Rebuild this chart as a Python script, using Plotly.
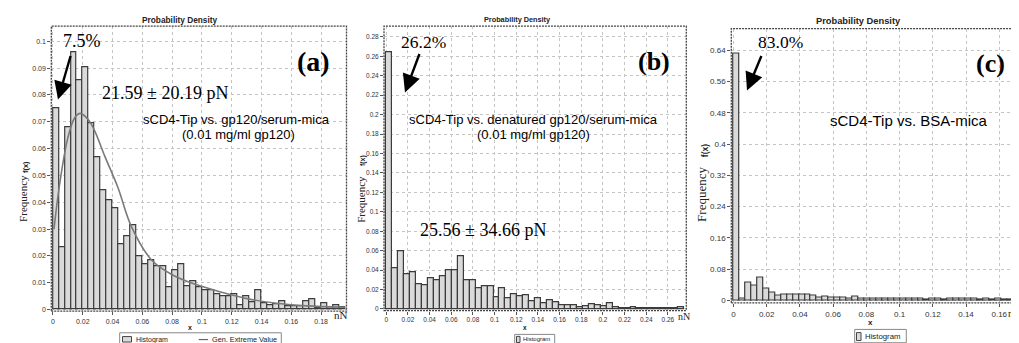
import plotly.graph_objects as go

# ---------------- data ----------------
# panel (a): sCD4-Tip vs. gp120/serum-mica
a_bin_width = 0.004
a_freq = [0.075, 0.0233, 0.0678, 0.0959, 0.0855, 0.0903, 0.0693, 0.0569, 0.0444, 0.0408,
          0.0378, 0.0242, 0.0273, 0.0313, 0.0200, 0.0169, 0.0184, 0.0163, 0.0160, 0.0083,
          0.0146, 0.0170, 0.0087, 0.0105, 0.0083, 0.0074, 0.0074, 0.0058, 0.0050, 0.0050,
          0.0058, 0.0017, 0.0049, 0.0027, 0.0074, 0.0025, 0.0016, 0.0022, 0.0033, 0.0014,
          0.0013, 0.0012, 0.0033, 0.0040, 0.0004, 0.0025, 0.0009, 0.0016, 0.0009]
gev_x = [0.0007, 0.0045, 0.010, 0.0146, 0.0183, 0.0235, 0.028, 0.0347, 0.0436, 0.0526,
         0.066, 0.080, 0.095, 0.113, 0.131, 0.150, 0.170, 0.196]
gev_y = [0.030, 0.0468, 0.064, 0.0715, 0.0731, 0.0709, 0.0666, 0.0573, 0.0455, 0.031,
         0.0186, 0.0130, 0.0095, 0.0065, 0.0040, 0.0024, 0.0014, 0.0009]

# panel (b): sCD4-Tip vs. denatured gp120/serum-mica
b_bin_width = 0.0055
b_freq = [0.264, 0.0415, 0.0599, 0.0354, 0.038, 0.0259, 0.0241, 0.0316, 0.0296, 0.0333,
          0.0395, 0.0395, 0.0544, 0.0296, 0.0296, 0.0214, 0.0231, 0.0231, 0.0122, 0.0214,
          0.0107, 0.0156, 0.0129, 0.0140, 0.0085, 0.0110, 0.0061, 0.0095, 0.0068, 0.0040,
          0.0037, 0.0037, 0.0017, 0.0027, 0.0054, 0.0040, 0.0027, 0.0061, 0.0017, 0.0005,
          0.0005, 0.0017, 0.0005, 0.0012, 0.0005, 0.0005, 0.0005, 0.0005, 0.0005, 0.0020]

# panel (c): sCD4-Tip vs. BSA-mica
c_bin_width = 0.00358
c_freq = [0.632, 0.0043, 0.045, 0.037, 0.058, 0.029, 0.019, 0.012, 0.0155, 0.0155,
          0.014, 0.014, 0.014, 0.011, 0.0077, 0.010, 0.007, 0.0077, 0.007, 0.0043,
          0.0086, 0.0043, 0.0034, 0.0043, 0.0035, 0.0045, 0.003, 0.005, 0.0035, 0.003,
          0.0035, 0.005, 0.002, 0.0035, 0.004, 0.002, 0.003, 0.004, 0.004, 0.0035,
          0.003, 0.002, 0.004, 0.0025, 0.003, 0.002, 0.002, 0.002, 0.005]

# ---------------- layout helpers ----------------
W, H = 1019, 343


def px(x):
    return x / W


def py(y):
    return 1 - y / H


def centers(freqs, w):
    return [w * (i + 0.5) for i in range(len(freqs))]


BAR_FILL = '#dadada'
BAR_LINE = '#3c3c3c'
SANS = 'Liberation Sans, Arial, sans-serif'
SERIF = 'Liberation Serif, Times New Roman, serif'

fig = go.Figure()

fig.add_trace(go.Bar(x=centers(a_freq, a_bin_width), y=a_freq, width=a_bin_width,
                     marker=dict(color=BAR_FILL, line=dict(color=BAR_LINE, width=1.2)),
                     xaxis='x', yaxis='y', showlegend=False))
fig.add_trace(go.Scatter(x=gev_x, y=gev_y, mode='lines',
                         line=dict(color='#7a7a7a', width=1.6, shape='spline'),
                         xaxis='x', yaxis='y', showlegend=False))
fig.add_trace(go.Bar(x=centers(b_freq, b_bin_width), y=b_freq, width=b_bin_width,
                     marker=dict(color=BAR_FILL, line=dict(color=BAR_LINE, width=1.2)),
                     xaxis='x2', yaxis='y2', showlegend=False))
fig.add_trace(go.Bar(x=centers(c_freq, c_bin_width), y=c_freq, width=c_bin_width,
                     marker=dict(color=BAR_FILL, line=dict(color=BAR_LINE, width=1.2)),
                     xaxis='x3', yaxis='y3', showlegend=False))


def axis(domain, rng, dtick, fs, anchor):
    return dict(domain=domain, range=rng, dtick=dtick, tick0=0, showgrid=True,
                gridcolor='#c4c4c4', griddash='dot', gridwidth=1, zeroline=False,
                showline=False, ticks='outside', ticklen=3, tickcolor='#555',
                tickfont=dict(family=SANS, size=fs, color='#333'), anchor=anchor)


fig.update_layout(
    width=W, height=H, margin=dict(l=0, r=0, t=0, b=0),
    paper_bgcolor='white', plot_bgcolor='white', bargap=0,
    xaxis=axis([px(43.3), px(338.5)], [-0.0011, 0.197], 0.02, 7, 'y'),
    yaxis=axis([py(305), py(18.3)], [-0.0006, 0.1056], 0.01, 7, 'x'),
    xaxis2=axis([px(376), px(678.3)], [-0.0021, 0.277], 0.02, 6.5, 'y2'),
    yaxis2=axis([py(304.3), py(18.3)], [-0.0016, 0.291], 0.02, 6.5, 'x2'),
    xaxis3=axis([px(723.3), px(1017)], [-0.0013, 0.1755], 0.02, 8, 'y3'),
    yaxis3=axis([py(296.7), py(20.7)], [-0.007, 0.696], 0.08, 8, 'x3'),
)

shapes = []
annotations = []

# plot frames
for xr, yr in [('x', 'y'), ('x2', 'y2'), ('x3', 'y3')]:
    shapes.append(dict(type='rect', xref=xr + ' domain', yref=yr + ' domain',
                       x0=0, x1=1, y0=0, y1=1,
                       line=dict(color='#444', width=1.3, dash='2px,1px'),
                       layer='above'))


def text(x, y, t, size, family=SANS, bold=False, color='black', angle=0, xanchor='center'):
    if bold:
        t = '<b>' + t + '</b>'
    annotations.append(dict(x=px(x), y=py(y), xref='paper', yref='paper', text=t,
                            showarrow=False, font=dict(family=family, size=size, color=color),
                            textangle=angle, xanchor=xanchor, yanchor='middle'))


def arrow(hx, hy, tx, ty):
    annotations.append(dict(x=px(hx), y=py(hy), xref='paper', yref='paper', text='',
                            showarrow=True, ax=tx - hx, ay=ty - hy, arrowhead=2,
                            arrowsize=1.5, arrowwidth=2.4, arrowcolor='black'))


# titles
text(172, 12, 'Probability Density', 8.3, bold=True, color='#222')
text(510, 12, 'Probability Density', 7.3, bold=True, color='#222')
text(850, 12.7, 'Probability Density', 9.3, bold=True, color='#222')

# y-axis labels
text(15, 192, 'Frequency', 11, family=SERIF, angle=-90, color='#222')
text(17, 160, 'f(x)', 7.5, bold=True, angle=-90, color='#222')
text(353, 193, 'Frequency', 11, family=SERIF, angle=-90, color='#222')
text(355, 154, 'f(x)', 7, bold=True, angle=-90, color='#222')
text(694, 188, 'Frequency', 13, family=SERIF, angle=-90, color='#222')
text(697, 144, 'f(x)', 8.5, bold=True, angle=-90, color='#222')

# x-axis labels
text(181.7, 321.7, 'x', 7, bold=True, color='#222')
text(517, 321, 'x', 6.5, bold=True, color='#222')
text(862, 316, 'x', 8, bold=True, color='#222')

# nN unit labels
text(333, 309, 'nN', 11, family=SERIF, color='#222')
text(676, 310, 'nN', 10, family=SERIF, color='#222')
text(1005.5, 307, 'nN', 10, family=SERIF, color='#222')

# panel (a) annotations
text(74, 33, '7.5%', 18, family=SERIF)
arrow(50, 92, 63, 47)
text(305, 54, '(a)', 28, family=SERIF, bold=True)
text(157, 86, '21.59 ± 20.19 pN', 18, family=SERIF)
text(228, 112, 'sCD4-Tip vs. gp120/serum-mica', 13)
text(230, 127, '(0.01 mg/ml gp120)', 13)

# panel (b) annotations
text(415, 34, '26.2%', 17.5, family=SERIF)
arrow(397, 85, 412, 45)
text(646, 54, '(b)', 26, family=SERIF, bold=True)
text(525, 112, 'sCD4-Tip vs. denatured gp120/serum-mica', 13)
text(525, 127, '(0.01 mg/ml gp120)', 13)
text(474.5, 223, '25.56 ± 34.66 pN', 18, family=SERIF)

# panel (c) annotations
text(772, 34, '83.0%', 17.5, family=SERIF)
arrow(739, 83, 754, 47)
text(982, 56, '(c)', 26, family=SERIF, bold=True)
text(901, 113, 'sCD4-Tip vs. BSA-mica', 15)


# legends (drawn as boxes)
def legend_box(x0, y0, x1, y1):
    shapes.append(dict(type='rect', xref='paper', yref='paper', x0=px(x0), x1=px(x1),
                       y0=py(y1), y1=py(y0), line=dict(color='#888', width=1),
                       fillcolor='white'))


def legend_icon(x0, y0, x1, y1):
    shapes.append(dict(type='rect', xref='paper', yref='paper', x0=px(x0), x1=px(x1),
                       y0=py(y1), y1=py(y0), line=dict(color='#444', width=1),
                       fillcolor=BAR_FILL))


legend_box(111.7, 326.7, 273.3, 340)
legend_icon(114.5, 330.5, 123.5, 336)
text(126, 333.5, 'Histogram', 7, color='#222', xanchor='left')
shapes.append(dict(type='line', xref='paper', yref='paper', x0=px(190.7), x1=px(200),
                   y0=py(333.5), y1=py(333.5), line=dict(color='#666', width=1.2)))
text(201.5, 333.5, 'Gen. Extreme Value', 7.3, color='#222', xanchor='left')

legend_box(506.7, 328.3, 546.7, 338.3)
legend_icon(508.5, 330.3, 512, 336.5)
text(513, 333.3, 'Histogram', 6, color='#222', xanchor='left')

legend_box(846.7, 323.3, 898.3, 336.7)
legend_icon(848.5, 326.5, 853, 334.5)
text(854.5, 330, 'Histogram', 7.8, color='#222', xanchor='left')

fig.update_layout(shapes=shapes, annotations=annotations)
fig.write_html('out.html')
